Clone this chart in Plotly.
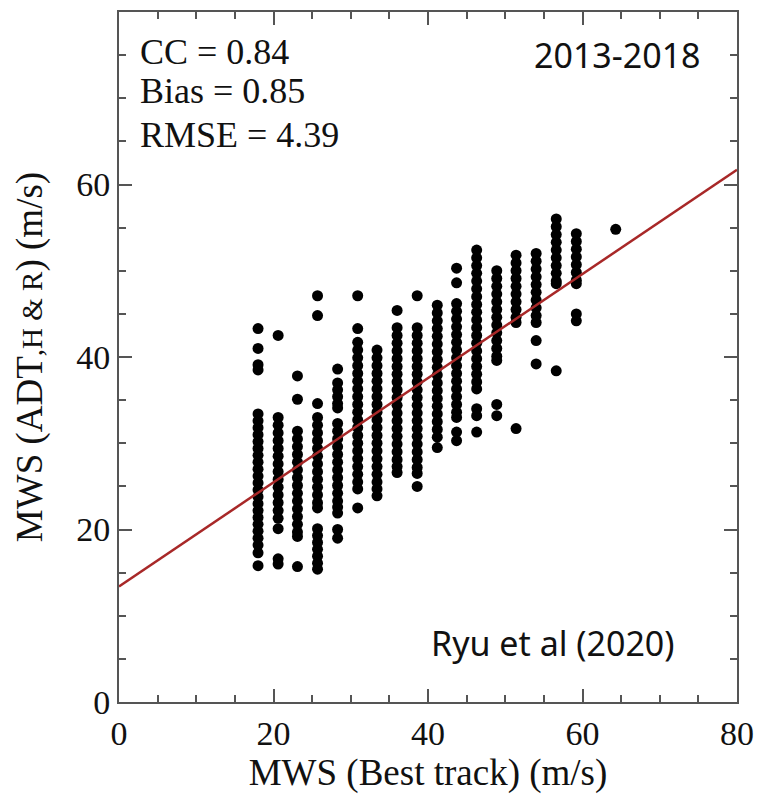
import plotly.graph_objects as go

# Best-track MWS columns (m/s)
bt_columns = [18.0, 20.6, 23.1, 25.7, 28.3, 30.9, 33.4, 36.0, 38.6,
              41.2, 43.7, 46.3, 48.9, 51.4, 54.0, 56.6, 59.2, 64.3]

# ADT / H&R MWS values (m/s) read per best-track column
adt_c01 = [43.3, 41.0, 39.1, 38.5, 33.4, 32.6, 31.8, 31.0, 30.2, 29.4, 28.6, 27.8, 27.0,
           26.2, 25.4, 24.6, 23.8, 23.0, 22.2, 21.4, 20.6, 19.8, 19.0, 18.2, 17.3, 15.8]
adt_c02 = [42.5, 33.0, 32.1, 31.2, 30.3, 29.4, 28.5, 27.6, 26.7, 25.8, 24.9, 24.0, 23.1,
           22.2, 21.3, 20.1, 16.6, 16.0]
adt_c03 = [37.8, 35.1, 31.4, 30.5, 29.6, 28.7, 27.8, 26.9, 26.0, 25.1, 24.2, 23.3, 22.4,
           21.5, 20.6, 19.7, 19.2, 15.7]
adt_c04 = [47.1, 44.8, 34.6, 33.0, 32.1, 31.2, 30.3, 29.4, 28.5, 27.6, 26.7, 25.8, 24.9,
           24.0, 23.1, 22.5, 20.1, 19.3, 18.5, 17.7, 16.9, 16.1, 15.4]
adt_c05 = [38.6, 37.0, 36.2, 35.4, 34.6, 34.1, 32.3, 31.4, 30.5, 29.6, 28.7, 27.8, 26.9,
           26.0, 25.1, 24.2, 23.3, 22.6, 21.9, 20.0, 19.0]
adt_c06 = [47.1, 43.3, 41.7, 40.8, 39.9, 39.0, 38.1, 37.2, 36.3, 35.4, 34.5, 33.6, 32.7,
           31.8, 30.9, 30.0, 29.1, 28.2, 27.3, 26.4, 25.5, 24.7, 22.5]
adt_c07 = [40.8, 39.9, 39.0, 38.1, 37.2, 36.3, 35.4, 34.5, 33.6, 32.7, 31.8, 30.9, 30.0,
           29.1, 28.2, 27.3, 26.4, 25.5, 24.7, 23.9]
adt_c08 = [45.4, 43.4, 42.5, 41.6, 40.7, 39.8, 38.9, 38.0, 37.1, 36.2, 35.3, 34.4, 33.5,
           32.6, 31.7, 30.8, 29.9, 29.0, 28.1, 27.3, 26.6]
adt_c09 = [47.1, 43.4, 42.5, 41.6, 40.7, 39.8, 38.9, 38.0, 37.1, 36.2, 35.3, 34.4, 33.5,
           32.6, 31.7, 30.8, 29.9, 29.0, 28.1, 27.2, 26.5, 25.0]
adt_c10 = [46.0, 45.1, 44.2, 43.3, 42.4, 41.5, 40.6, 39.7, 38.8, 37.9, 37.0, 36.1, 35.2,
           34.3, 33.4, 32.5, 31.6, 30.7, 29.5]
adt_c11 = [50.3, 48.6, 46.2, 45.3, 44.4, 43.5, 42.6, 41.7, 40.8, 39.9, 39.0, 38.1, 37.2,
           36.3, 35.4, 34.5, 33.6, 33.0, 31.3, 30.3]
adt_c12 = [52.4, 51.5, 50.6, 49.7, 48.8, 47.9, 47.0, 46.1, 45.2, 44.3, 43.4, 42.5, 41.6,
           40.7, 39.8, 38.9, 38.0, 37.1, 36.3, 34.0, 33.2, 31.3]
adt_c13 = [50.0, 49.1, 48.2, 47.3, 46.4, 45.5, 44.6, 43.7, 42.8, 41.9, 41.0, 40.1, 39.6,
           34.5, 33.2]
adt_c14 = [51.8, 50.9, 50.0, 49.1, 48.2, 47.3, 46.4, 45.5, 44.6, 44.0, 31.7]
adt_c15 = [52.0, 51.1, 50.2, 49.3, 48.4, 47.5, 46.6, 45.7, 44.8, 44.0, 41.9, 39.2]
adt_c16 = [56.0, 55.1, 54.2, 53.3, 52.4, 51.5, 50.6, 49.7, 48.8, 48.5, 38.4]
adt_c17 = [54.3, 53.4, 52.5, 51.6, 50.7, 49.8, 48.9, 48.5, 45.0, 44.2]
adt_c18 = [54.8]

adt_columns = [adt_c01, adt_c02, adt_c03, adt_c04, adt_c05, adt_c06, adt_c07, adt_c08, adt_c09,
               adt_c10, adt_c11, adt_c12, adt_c13, adt_c14, adt_c15, adt_c16, adt_c17, adt_c18]

# Regression line end points
fit_x = [0, 80]
fit_y = [13.4, 61.7]

stats_labels = ["CC = 0.84", "Bias = 0.85", "RMSE = 4.39"]
period_label = "2013-2018"
source_label = "Ryu et al (2020)"
tick_vals = [0, 20, 40, 60, 80]

xs, ys = [], []
for bx, col in zip(bt_columns, adt_columns):
    for v in col:
        xs.append(bx)
        ys.append(v)

SERIF = "Liberation Serif, Times New Roman, serif"
SANS = "Noto Sans, Open Sans, sans-serif"
INK = "#111"

fig = go.Figure()
fig.add_trace(go.Scatter(x=xs, y=ys, mode="markers",
                         marker=dict(color="black", size=11, line=dict(width=0)),
                         showlegend=False))
fig.add_trace(go.Scatter(x=fit_x, y=fit_y, mode="lines",
                         line=dict(color="#a82828", width=2.5), showlegend=False))

axis_common = dict(
    range=[0, 80], tickvals=tick_vals, ticks="inside", ticklen=13, tickwidth=1.5,
    tickcolor="#555", showline=True, linecolor="#555", linewidth=2, mirror="allticks",
    showgrid=False, zeroline=False, automargin=False,
    minor=dict(dtick=5, ticks="inside", ticklen=7, tickwidth=1.5, tickcolor="#555", showgrid=False),
    tickfont=dict(family=SERIF, size=34, color=INK),
)

fig.update_xaxes(**axis_common,
                 title=dict(text="MWS (Best track) (m/s)",
                            font=dict(family=SERIF, size=37, color=INK), standoff=5))
fig.update_yaxes(**axis_common,
                 title=dict(text="MWS (ADT<span style='font-size:29px'>,H &amp; R</span>) (m/s)",
                            font=dict(family=SERIF, size=37, color=INK), standoff=22))

annotations = []
for lbl, yv in zip(stats_labels, [75.4, 70.8, 65.7]):
    annotations.append(dict(x=2.5, y=yv, xref="x", yref="y", text=lbl, showarrow=False,
                            xanchor="left", yanchor="middle",
                            font=dict(family=SERIF, size=36, color=INK)))
annotations.append(dict(x=64.5, y=75.0, xref="x", yref="y", text=period_label, showarrow=False,
                        xanchor="center", yanchor="middle",
                        font=dict(family=SANS, size=34, color=INK)))
annotations.append(dict(x=56.2, y=6.8, xref="x", yref="y", text=source_label, showarrow=False,
                        xanchor="center", yanchor="middle",
                        font=dict(family=SANS, size=34, color=INK)))

fig.update_layout(width=759, height=796, margin=dict(l=119, r=22, t=12, b=94),
                  plot_bgcolor="white", paper_bgcolor="white", annotations=annotations)

fig.write_html("out.html", config={"displayModeBar": False},
               post_script="document.body.style.margin='0';document.body.style.overflow='hidden';")
